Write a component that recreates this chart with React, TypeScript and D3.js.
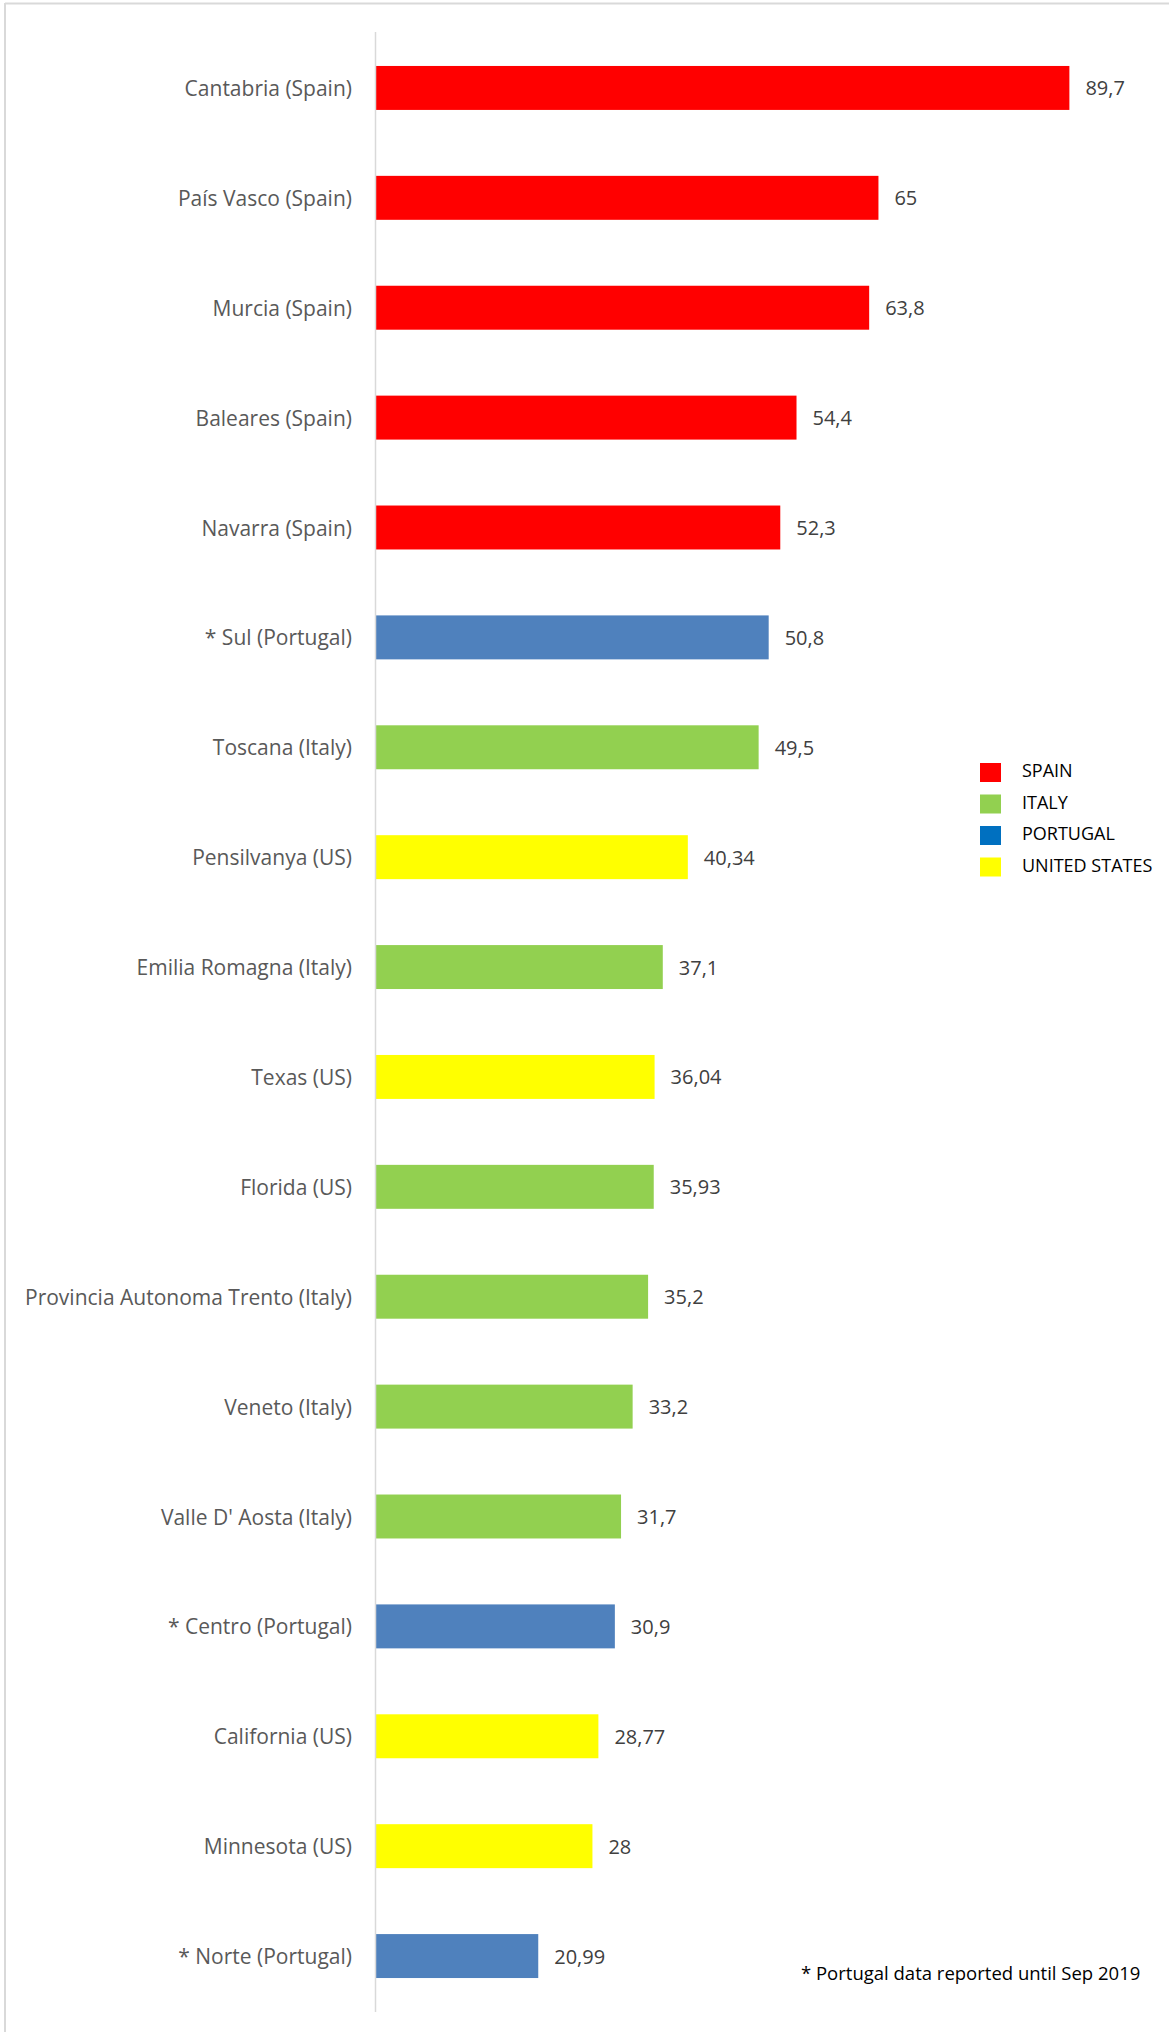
import React from 'react';
import { scaleBand, scaleLinear } from 'd3';

// rows, top to bottom
const regions = [
    'Cantabria (Spain)',
    'País Vasco (Spain)',
    'Murcia (Spain)',
    'Baleares (Spain)',
    'Navarra (Spain)',
    '* Sul (Portugal)',
    'Toscana (Italy)',
    'Pensilvanya (US)',
    'Emilia Romagna (Italy)',
    'Texas (US)',
    'Florida (US)',
    'Provincia Autonoma Trento (Italy)',
    'Veneto (Italy)',
    "Valle D' Aosta (Italy)",
    '* Centro (Portugal)',
    'California (US)',
    'Minnesota (US)',
    '* Norte (Portugal)',
];

const values = [89.7, 65, 63.8, 54.4, 52.3, 50.8, 49.5, 40.34, 37.1, 36.04, 35.93, 35.2, 33.2, 31.7, 30.9, 28.77, 28, 20.99];

const valueLabels = ['89,7', '65', '63,8', '54,4', '52,3', '50,8', '49,5', '40,34', '37,1', '36,04', '35,93', '35,2', '33,2', '31,7', '30,9', '28,77', '28', '20,99'];

// bar colour group per row (Florida is green in the original)
const barGroup = ['es', 'es', 'es', 'es', 'es', 'pt', 'it', 'us', 'it', 'us', 'it', 'it', 'it', 'it', 'pt', 'us', 'us', 'pt'];

const barColors: Record<string, string> = {
    es: '#FF0000',
    it: '#92D050',
    pt: '#4F81BD',
    us: '#FFFF00',
};

const legendNames = ['SPAIN', 'ITALY', 'PORTUGAL', 'UNITED STATES'];
const legendColors = ['#FF0000', '#92D050', '#0070C0', '#FFFF00'];

const footnote = '* Portugal data reported until Sep 2019';

const W = 1169;
const H = 2032;
const FONT = '"Open Sans", "Noto Sans", sans-serif';

export default function App() {
    const x = scaleLinear().domain([0, 100]).range([376, 1149]);
    const y = scaleBand<string>()
        .domain(regions)
        .range([33, 2011])
        .paddingInner(0.6)
        .paddingOuter(0.3);
    const bw = y.bandwidth();

    return (
        <svg
            width={W}
            height={H}
            style={{ position: 'absolute', left: 0, top: 0, background: '#fff' }}
        >
            <rect x={0} y={0} width={W} height={H} fill="#fff" />
            {/* chart area edges */}
            <line x1={5} x2={5} y1={3} y2={H} stroke="#D9D9D9" strokeWidth={2} />
            <line x1={5} x2={W} y1={3.5} y2={3.5} stroke="#D9D9D9" strokeWidth={2} />

            {regions.map((r, i) => {
                const yy = y(r) as number;
                return (
                    <g key={r}>
                        <rect
                            x={x(0)}
                            y={yy}
                            width={x(values[i]) - x(0)}
                            height={bw}
                            fill={barColors[barGroup[i]]}
                        />
                        <text
                            x={352}
                            y={yy + bw / 2}
                            textAnchor="end"
                            dominantBaseline="central"
                            fontFamily={FONT}
                            fontSize={21}
                            fill="#595959"
                        >
                            {r}
                        </text>
                        <text
                            x={x(values[i]) + 16}
                            y={yy + bw / 2}
                            dominantBaseline="central"
                            fontFamily={FONT}
                            fontSize={20}
                            fill="#404040"
                        >
                            {valueLabels[i]}
                        </text>
                    </g>
                );
            })}

            {/* category axis */}
            <line x1={375.5} x2={375.5} y1={32} y2={2012} stroke="#D9D9D9" strokeWidth={1.5} />

            {/* legend */}
            {legendNames.map((name, i) => (
                <g key={name} transform={`translate(980, ${763 + i * 31.5})`}>
                    <rect x={0} y={0} width={21} height={19} fill={legendColors[i]} />
                    <text
                        x={42}
                        y={7}
                        dominantBaseline="central"
                        fontFamily={FONT}
                        fontSize={18}
                        fill="#000"
                    >
                        {name}
                    </text>
                </g>
            ))}

            <text
                x={801}
                y={1972}
                dominantBaseline="central"
                fontFamily={FONT}
                fontSize={18.5}
                fill="#000"
            >
                {footnote}
            </text>
        </svg>
    );
}
